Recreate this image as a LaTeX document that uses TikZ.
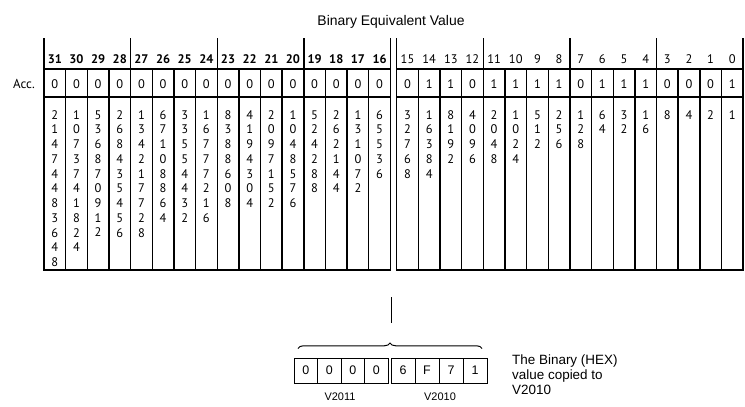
\documentclass[tikz,border=0pt]{standalone}
\usepackage{fontspec}
\setmainfont{Liberation Sans}
\newfontfamily\tabfont{PT Sans}
\usetikzlibrary{decorations.pathreplacing}
\begin{document}
\begin{tikzpicture}[x=1bp,y=-1bp,line width=1.4bp,
  tabtxt/.style={font=\tabfont\fontsize{12.5}{14.8}\selectfont,inner sep=0pt},
  hdrnum/.style={tabtxt,anchor=base},
  accnum/.style={tabtxt,anchor=base},
  wtcol/.style={tabtxt,anchor=north,align=center},
  titletxt/.style={font=\fontsize{14}{16}\selectfont,inner sep=0pt},
  bcell/.style={draw,line width=1bp,minimum height=25bp,inner sep=0pt,outer sep=0pt,font=\fontsize{12.5}{14}\selectfont},
  vlabel/.style={font=\fontsize{11}{13}\selectfont,inner sep=0pt},
  notetxt/.style={font=\fontsize{13.5}{15}\selectfont,inner sep=0pt,align=left,anchor=north west}]
\useasboundingbox (0,0) rectangle (745,406);
\def\cw{21.65}
% title
\node[titletxt] (title) at (391,22.3) {Binary Equivalent Value};
\node[tabtxt,font=\tabfont\fontsize{13}{15}\selectfont] (acclbl) at (24,84) {Acc.};
% grid of the two 16-bit boxes
\foreach \bx in {44,396.7}{
  \draw (\bx,69) rectangle ++(16*\cw,201);
  \draw (\bx,97) -- ++(16*\cw,0);
  \foreach \i in {1,...,15} \draw (\bx+\i*\cw,69) -- ++(0,201);
  \foreach \i in {0,4,8,12,16} \draw (\bx+\i*\cw,38) -- ++(0,31);
}
% bit numbers, accumulator bits and weights
\foreach \b/\a/\v in {
31/0/2\\1\\4\\7\\4\\4\\8\\3\\6\\4\\8,
30/0/1\\0\\7\\3\\7\\4\\1\\8\\2\\4,
29/0/5\\3\\6\\8\\7\\0\\9\\1\\2,
28/0/2\\6\\8\\4\\3\\5\\4\\5\\6,
27/0/1\\3\\4\\2\\1\\7\\7\\2\\8,
26/0/6\\7\\1\\0\\8\\8\\6\\4,
25/0/3\\3\\5\\5\\4\\4\\3\\2,
24/0/1\\6\\7\\7\\7\\2\\1\\6,
23/0/8\\3\\8\\8\\6\\0\\8,
22/0/4\\1\\9\\4\\3\\0\\4,
21/0/2\\0\\9\\7\\1\\5\\2,
20/0/1\\0\\4\\8\\5\\7\\6,
19/0/5\\2\\4\\2\\8\\8,
18/0/2\\6\\2\\1\\4\\4,
17/0/1\\3\\1\\0\\7\\2,
16/0/6\\5\\5\\3\\6,
15/0/3\\2\\7\\6\\8,
14/1/1\\6\\3\\8\\4,
13/1/8\\1\\9\\2,
12/0/4\\0\\9\\6,
11/1/2\\0\\4\\8,
10/1/1\\0\\2\\4,
9/1/5\\1\\2,
8/1/2\\5\\6,
7/0/1\\2\\8,
6/1/6\\4,
5/1/3\\2,
4/1/1\\6,
3/0/8,
2/0/4,
1/0/2,
0/1/1}{
  \ifnum\b>15
    \pgfmathsetmacro\xx{44+(31-\b+0.5)*\cw}
    \def\hf{\bfseries}
  \else
    \pgfmathsetmacro\xx{396.7+(15-\b+0.5)*\cw}
    \def\hf{}
  \fi
  \node[hdrnum,font=\tabfont\fontsize{12.5}{14.8}\selectfont\hf] (h\b) at (\xx,63.8) {\b};
  \node[accnum] (a\b) at (\xx,88.6) {\a};
  \node[wtcol] (w\b) at (\xx,109.6) {\v};
}
% lower part
\coordinate (ltop) at (391.7,297);
\coordinate (lbot) at (391.7,323);
\draw[line width=1.2bp] (ltop) -- (lbot);
\coordinate (brl) at (298,348.5);
\coordinate (brr) at (482,348.5);
\draw[line width=1bp,decorate,decoration={brace,amplitude=5.5bp}] (brl) -- (brr);
\foreach \i/\t in {0/0,1/0,2/0,3/0}
  \node[bcell,minimum width=23.5bp] (c\i) at (294+\i*23.5+11.75,370.5) {\t};
\foreach \i/\t in {4/6,5/F,6/7,7/1}
  \node[bcell,minimum width=24bp] (c\i) at (391+\i*24-96+12,370.5) {\t};
\node[vlabel] (v2011) at (340,397) {V2011};
\node[vlabel] (v2010) at (440,397) {V2010};
\node[notetxt] (note) at (511.5,354) {The Binary (HEX)\\value copied to\\V2010};
\end{tikzpicture}
\end{document}
